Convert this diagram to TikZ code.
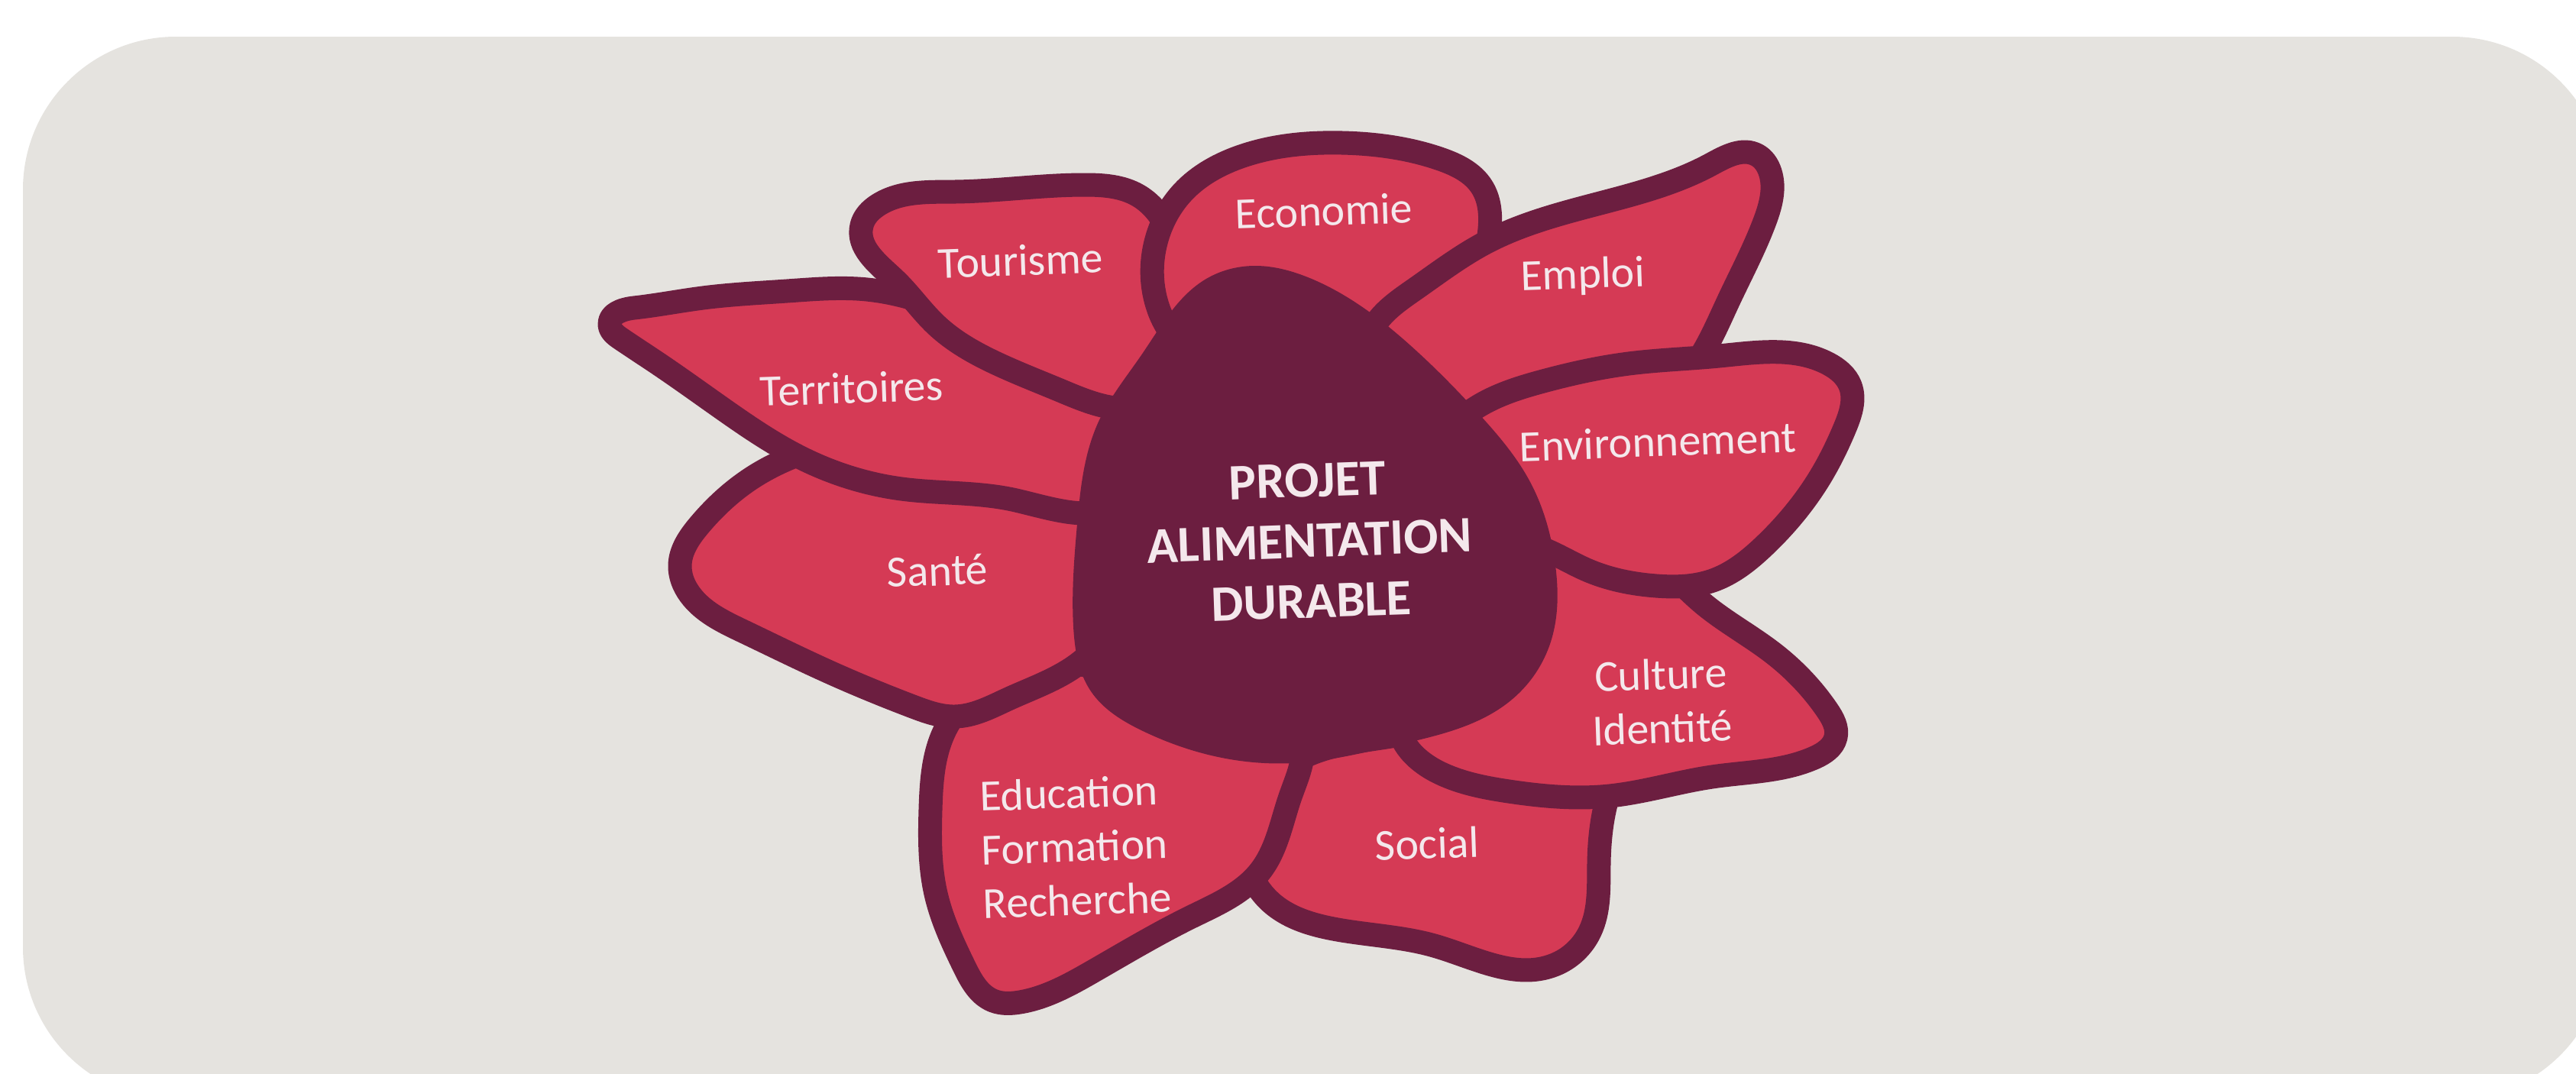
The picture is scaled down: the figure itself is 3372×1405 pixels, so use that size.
\documentclass[tikz,border=0pt]{standalone}
\usepackage{fontspec}
\setmainfont{Carlito}
\usetikzlibrary{hobby}
\definecolor{paper}{HTML}{E5E3DF}
\definecolor{plum}{HTML}{6C1E40}
\definecolor{rose}{HTML}{D53A55}
\definecolor{chalk}{HTML}{F4E8EC}
\tikzstyle{petal} = [draw=plum, fill=rose, line width=0.31cm, line join=round]
\tikzstyle{heart} = [fill=plum]
\tikzstyle{leaf} = [text=chalk, font=\fontsize{16.5}{20}\selectfont, align=center, rotate=2, inner sep=0pt]
\tikzstyle{core} = [text=chalk, font=\bfseries\fontsize{19}{22.5}\selectfont, align=center, rotate=2, inner sep=0pt]

\begin{document}
\begin{tikzpicture}[x=0.01cm, y=-0.01cm]

\clip (0,0) rectangle (3372,1405);
\fill[paper, rounded corners=2cm] (30,48) rectangle (3410,1440);

\draw[petal] plot[closed hobby] coordinates {(1690,1000) (1640,1150) (1870,1236) (2035,1263) (2081,1220) (2093,1130) (2104,1045) (2115,940) (1880,950)};
\draw[petal] plot[closed hobby] coordinates {(2150,720) (2228,789) (2321,855) (2392,930) (2403,965) (2375,992) (2241,1017) (2107,1042) (1975,1036) (1885,1012) (1830,940) (1900,850) (1990,720)};
\draw[petal] plot[closed hobby] coordinates {(1300,890) (1235,960) (1218,1060) (1225,1170) (1262,1265) (1300,1310) (1335,1312) (1430,1272) (1560,1200) (1650,1140) (1690,1040) (1700,960) (1560,930) (1450,880)};
\draw[petal] plot[closed hobby] coordinates {(1130,570) (990,622) (915,688) (890,740) (903,778) (972,826) (1086,880) (1195,925) (1250,938) (1320,915) (1410,870) (1480,720) (1420,600)};
\draw[petal] plot[closed hobby] coordinates {(798,425) (830,403) (920,390) (1030,381) (1135,379) (1300,430) (1470,540) (1475,650) (1330,655) (1180,640) (1050,600) (950,538) (860,475) (812,443)};
\draw[petal] plot[closed hobby] coordinates {(1128,295) (1150,268) (1250,251) (1420,242) (1490,256) (1545,340) (1560,450) (1500,530) (1390,512) (1305,476) (1225,425) (1170,365)};
\draw[petal] plot[closed hobby] coordinates {(1757,187) (1885,208) (1940,245) (1950,300) (1850,440) (1700,460) (1560,460) (1515,400) (1515,310) (1548,252) (1627,204)};
\draw[petal] plot[closed hobby] coordinates {(2300,203) (2317,225) (2310,290) (2262,395) (2200,500) (2050,560) (1900,555) (1790,450) (1850,380) (1944,318) (2106,263) (2240,215)};
\draw[petal] plot[closed hobby] coordinates {(2020,499) (2132,476) (2250,466) (2393,476) (2422,505) (2415,560) (2383,624) (2309,715) (2242,760) (2168,767) (2077,746) (2010,715) (1920,690) (1880,600) (1930,535)};

\fill[heart] plot[closed hobby] coordinates {(1579,365) (1645,348) (1712,363) (1779,399) (1846,452) (1936,542) (2003,631) (2036,740) (2030,840) (1980,915) (1830,975) (1693,999) (1590,990) (1496,957) (1428,905) (1405,820) (1410,686) (1438,552) (1496,462)};

\node (leaf1) [leaf] at (1336,341) {Tourisme};
\node (leaf2) [leaf] at (1733,276) {Economie};
\node (leaf3) [leaf] at (2072,362) {Emploi};
\node (leaf4) [leaf] at (1115,508) {Territoires};
\node (leaf5) [leaf] at (2170,578) {Environnement};
\node (leaf6) [leaf] at (1227,747) {Santé};
\node (leaf7) [leaf] at (2175,918) {Culture\\Identité};
\node (leaf8) [leaf, align=left] at (1408,1108) {Education\\Formation\\Recherche};
\node (leaf9) [leaf] at (1868,1104) {Social};
\node (heart0) [core] at (1714,708) {PROJET\\ALIMENTATION\\DURABLE};
\end{tikzpicture}
\end{document}
